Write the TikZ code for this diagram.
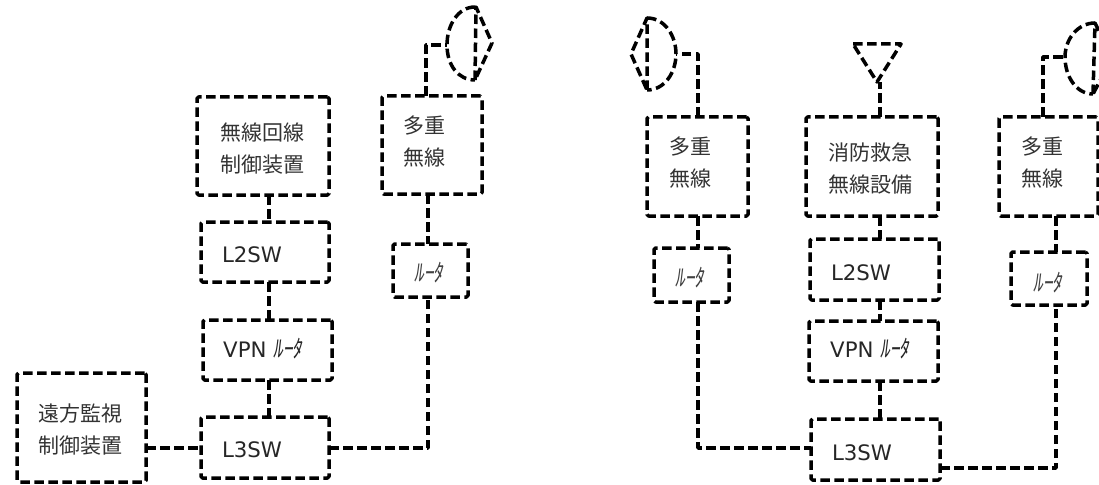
\documentclass[tikz,border=0pt]{standalone}
\usepackage{fontspec}
\setmainfont{DejaVu Sans}
\newfontfamily\jp{Noto Sans CJK JP}
\newfontfamily\kana[FakeSlant=0.12,FakeStretch=0.82]{Noto Sans CJK JP}
\newcommand{\rt}{{\kana\fontsize{24}{24}\selectfont ﾙｰﾀ}}
\tikzset{
  dashline/.style={line width=3.5pt,dash pattern=on 9.5pt off 4.5pt,line join=round},
  boxnode/.style={draw,dashline,rounded corners=1.5pt,outer sep=0pt,inner sep=0pt},
  jplabel/.style={font=\jp\fontsize{21}{32}\selectfont,align=center,text=black!80,inner sep=0pt},
  latinlabel/.style={font=\fontsize{21.3}{24}\selectfont,align=center,text=black!85,inner sep=0pt},
  kanalabel/.style={inner sep=0pt,text=black!75}
}
\newcommand{\bx}[5]{\node[boxnode,minimum width={(#4-#2)*1pt},minimum height={(#5-#3)*1pt}] (#1) at ({(#2+#4)/2},{(#3+#5)/2}) {};}
\begin{document}
\begin{tikzpicture}[x=1pt,y=-1pt]
\useasboundingbox (0,0) rectangle (1099,484);
% left group boxes
\bx{lctl}{197}{97}{329}{195}
\bx{ltwo}{201}{222}{329}{282}
\bx{lvpn}{203}{320}{332}{380}
\bx{lthree}{201}{417}{329}{478}
\bx{lfar}{17}{373}{146}{482}
\bx{lmux}{382}{96}{482}{194}
\bx{lrt}{393}{244}{468}{297}
% right group boxes
\bx{rmuxa}{647}{117}{748}{216}
\bx{rrta}{654}{248}{729}{302}
\bx{rfire}{806}{117}{938}{216}
\bx{rtwo}{810}{239}{939}{300}
\bx{rvpn}{809}{321}{938}{381}
\bx{rthree}{811}{419}{940}{480}
\bx{rmuxb}{999}{117}{1098}{216}
\bx{rrtb}{1011}{252}{1087}{305}
% labels
\node[jplabel] (t1) at (262,149) {無線回線\\制御装置};
\node[latinlabel] (t2) at (252,255) {L2SW};
\node[latinlabel] (t3) at (263,349) {VPN \rt};
\node[latinlabel] (t4) at (252,450) {L3SW};
\node[jplabel] (t5) at (80,430) {遠方監視\\制御装置};
\node[jplabel] (t6) at (424,142) {多重\\無線};
\node[kanalabel] (t7) at (429,273) {\rt};
\node[jplabel] (t8) at (690,163) {多重\\無線};
\node[kanalabel] (t9) at (690,278) {\rt};
\node[jplabel] (t10) at (870,169) {消防救急\\無線設備};
\node[latinlabel] (t11) at (861,273) {L2SW};
\node[latinlabel] (t12) at (870,349) {VPN \rt};
\node[latinlabel] (t13) at (862,453) {L3SW};
\node[jplabel] (t14) at (1042,163) {多重\\無線};
\node[kanalabel] (t15) at (1048,283) {\rt};
% connector guides
\coordinate (xa) at (269,0);
\coordinate (xb) at (428,0);
\coordinate (xc) at (698,0);
\coordinate (xd) at (880,0);
\coordinate (xe) at (1056,0);
\coordinate (ya) at (0,448);
\coordinate (yb) at (0,468);
% left connectors
\draw[dashline] (lctl.south -| xa) -- (ltwo.north -| xa);
\draw[dashline] (ltwo.south -| xa) -- (lvpn.north -| xa);
\draw[dashline] (lvpn.south -| xa) -- (lthree.north -| xa);
\draw[dashline] (lfar.east |- ya) -- (lthree.west |- ya);
\draw[dashline] (lmux.south -| xb) -- (lrt.north -| xb);
\draw[dashline] (lthree.east |- ya) -- (xb |- ya) -- (lrt.south -| xb);
% right connectors
\draw[dashline] (rmuxa.south -| xc) -- (rrta.north -| xc);
\draw[dashline] (rrta.south -| xc) -- (xc |- ya) -- (rthree.west |- ya);
\draw[dashline] (rfire.south -| xd) -- (rtwo.north -| xd);
\draw[dashline] (rtwo.south -| xd) -- (rvpn.north -| xd);
\draw[dashline] (rvpn.south -| xd) -- (rthree.north -| xd);
\draw[dashline] (rthree.east |- yb) -- (xe |- yb) -- (rrtb.south -| xe);
\draw[dashline] (rmuxb.south -| xe) -- (rrtb.north -| xe);
% left dish
\coordinate (da) at (447,45);
\draw[dashline] (475,7) .. controls (458,7) and (447,25) .. (da) .. controls (447,65) and (458,80) .. (475,80);
\draw[dashline] (475,80) -- (476,7) -- (492,43) -- (475,80);
\draw[dashline] (lmux.north -| 426,0) -- (426,45) -- (da);
% right group, left dish
\coordinate (db) at (676,54);
\draw[dashline] (647,18) .. controls (665,18) and (676,36) .. (db) .. controls (676,72) and (665,90) .. (647,90);
\draw[dashline] (647,90) -- (647,18) -- (631,54) -- (647,90);
\draw[dashline] (rmuxa.north -| xc) -- (xc |- db) -- (db);
% aerial
\coordinate (tip) at (877,82);
\draw[dashline] (853,44) -- (901,44) -- (tip) -- cycle;
\draw[dashline] (rfire.north -| xd) -- (880,82);
% right dish
\coordinate (dc) at (1065,57);
\draw[dashline] (1095,23) .. controls (1077,23) and (1065,40) .. (dc) .. controls (1065,76) and (1076,94) .. (1093,94);
\draw[dashline] (1093,94) -- (1095,23) -- (1112,58) -- (1093,94);
\draw[dashline] (rmuxb.north -| 1043,0) -- (1043,57) -- (dc);
\end{tikzpicture}
\end{document}
